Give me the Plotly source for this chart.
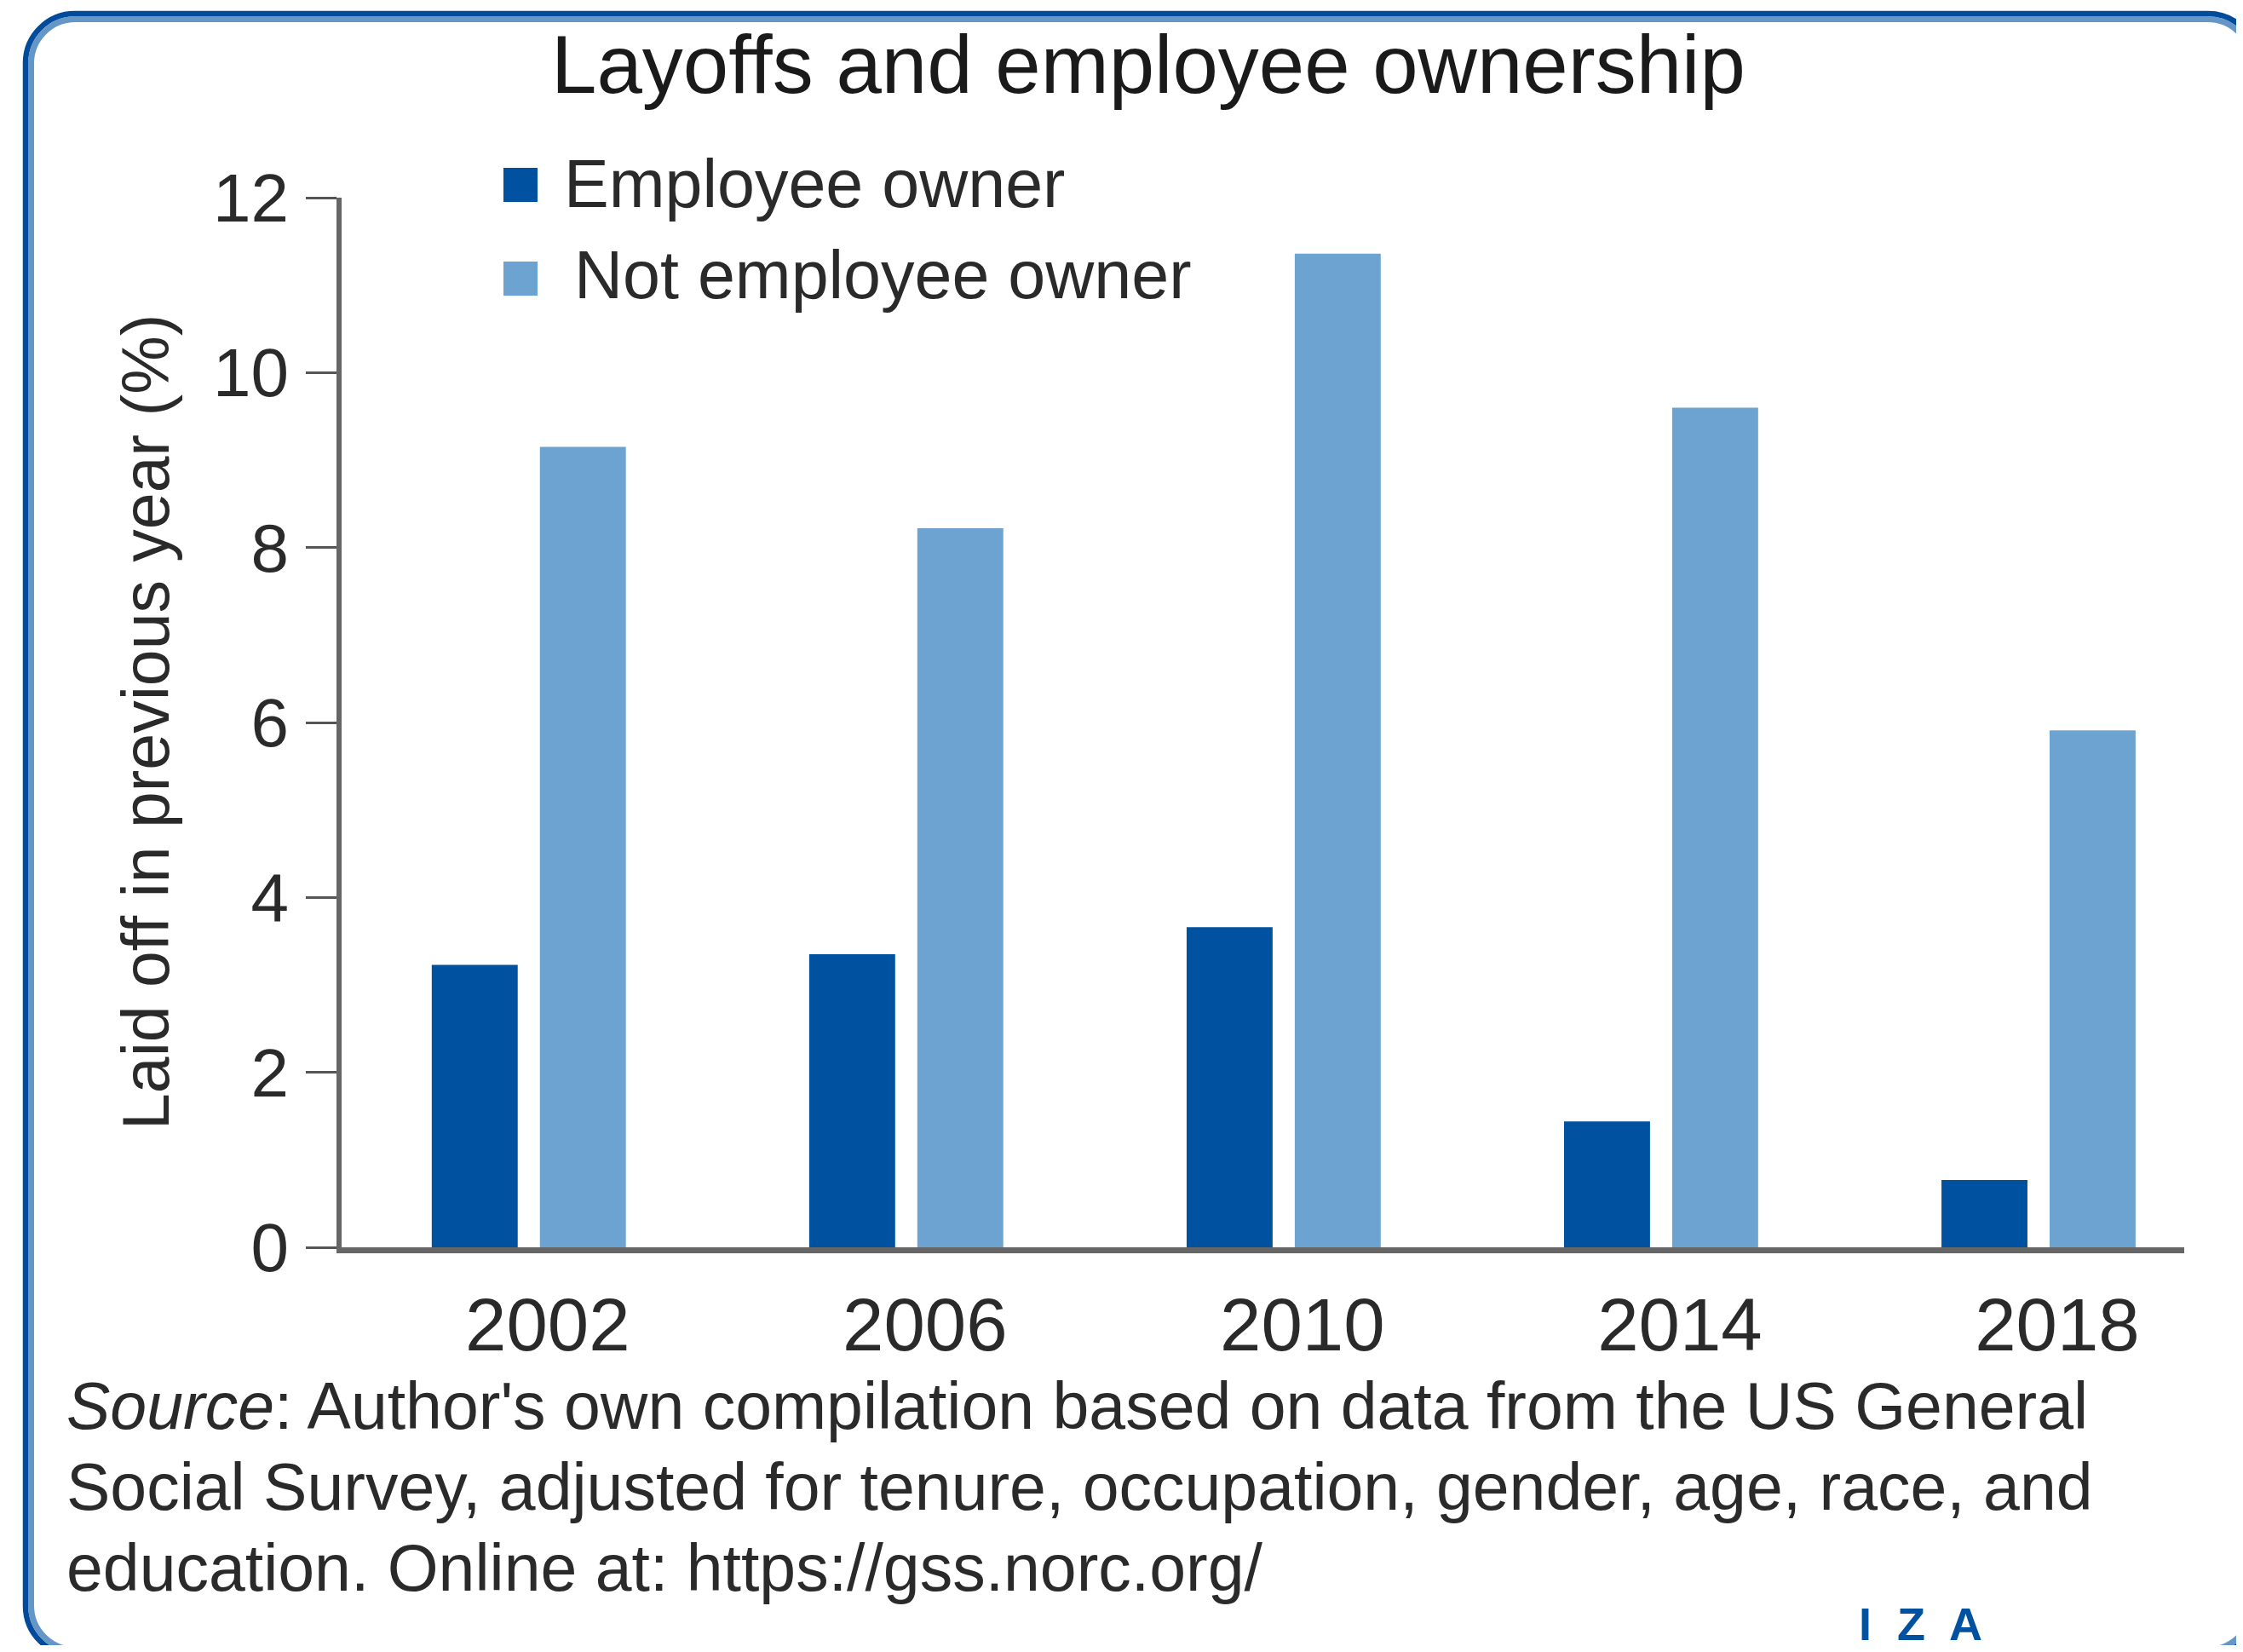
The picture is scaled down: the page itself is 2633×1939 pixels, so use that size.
import plotly.graph_objects as go

# ---- data ----
years = ["2002", "2006", "2010", "2014", "2018"]
employee_owner = [3.23, 3.35, 3.66, 1.44, 0.77]
not_employee_owner = [9.15, 8.22, 11.36, 9.60, 5.91]
series_names = ["Employee owner", "Not employee owner"]
y_ticks = [0, 2, 4, 6, 8, 10, 12]

# ---- layout geometry (target-screen pixels; page body has an 8px margin) ----
OFF = 8
FW, FH = 2633 - 2 * OFF, 1939 - 2 * OFF
# plot area in screen pixels: x 401..2564, y 232..1464
ML = 401 - OFF
MT = 232 - OFF
MR = FW - (2564 - OFF)
MB = FH - (1464 - OFF)
PW = FW - ML - MR
PH = FH - MT - MB


def px(x):
    return (x - OFF - ML) / PW


def py(y):
    return (FH - MB - (y - OFF)) / PH


DARK = "#0052A0"
LIGHT = "#6DA3D0"
TEXT_FONT = "Liberation Sans, Arial, sans-serif"
NUM_FONT = "Liberation Sans, Arial, sans-serif"
TXT_COL = "#2a2a2a"

fig = go.Figure()
fig.add_trace(go.Bar(x=years, y=employee_owner, name=series_names[0],
                     marker=dict(color=DARK, line=dict(width=0)), showlegend=False))
fig.add_trace(go.Bar(x=years, y=not_employee_owner, name=series_names[1],
                     marker=dict(color=LIGHT, line=dict(width=0)), showlegend=False))


def rounded_path(x0, y0, x1, y1, r):
    k = 0.5523 * r

    def P(x, y):
        return f"{px(x):.6f},{py(y):.6f}"
    return (f"M {P(x0 + r, y0)} L {P(x1 - r, y0)} "
            f"C {P(x1 - r + k, y0)} {P(x1, y0 + r - k)} {P(x1, y0 + r)} "
            f"L {P(x1, y1 - r)} "
            f"C {P(x1, y1 - r + k)} {P(x1 - r + k, y1)} {P(x1 - r, y1)} "
            f"L {P(x0 + r, y1)} "
            f"C {P(x0 + r - k, y1)} {P(x0, y1 - r + k)} {P(x0, y1 - r)} "
            f"L {P(x0, y0 + r)} "
            f"C {P(x0, y0 + r - k)} {P(x0 + r - k, y0)} {P(x0 + r, y0)} Z")


shapes = [
    dict(type="path", xref="paper", yref="paper",
         path=rounded_path(30, 16, 2650, 1943, 58),
         line=dict(color="#004B9B", width=6.5)),
    dict(type="path", xref="paper", yref="paper",
         path=rounded_path(36.5, 22.5, 2643.5, 1936.5, 52),
         line=dict(color="#6496C8", width=7)),
]

# legend squares
for yc, col in [(217, DARK), (327, LIGHT)]:
    shapes.append(dict(type="rect", xref="paper", yref="paper",
                       x0=px(591), x1=px(631), y0=py(yc + 20), y1=py(yc - 20),
                       fillcolor=col, line=dict(width=0)))

annotations = [
    dict(text="Layoffs and employee ownership", x=px(1348), y=py(76),
         xref="paper", yref="paper", xanchor="center", yanchor="middle",
         showarrow=False, font=dict(family=TEXT_FONT, size=96, color="#1a1a1a")),
    dict(text=series_names[0], x=px(660), y=py(215),
         xref="paper", yref="paper", xanchor="left", yanchor="middle",
         showarrow=False, font=dict(family=TEXT_FONT, size=79, color=TXT_COL)),
    dict(text=series_names[1], x=px(672), y=py(322),
         xref="paper", yref="paper", xanchor="left", yanchor="middle",
         showarrow=False, font=dict(family=TEXT_FONT, size=79, color=TXT_COL)),
    dict(text="Laid off in previous year (%)", x=px(171), y=py(848),
         xref="paper", yref="paper", xanchor="center", yanchor="middle",
         textangle=-90, showarrow=False,
         font=dict(family=TEXT_FONT, size=77, color=TXT_COL)),
    dict(text="<i>Source</i>: Author's own compilation based on data from the US General",
         x=px(76), y=py(1650), xref="paper", yref="paper", xanchor="left", yanchor="middle",
         showarrow=False, font=dict(family=TEXT_FONT, size=77, color=TXT_COL)),
    dict(text="Social Survey, adjusted for tenure, occupation, gender, age, race, and",
         x=px(76), y=py(1745), xref="paper", yref="paper", xanchor="left", yanchor="middle",
         showarrow=False, font=dict(family=TEXT_FONT, size=77, color=TXT_COL)),
    dict(text="education. Online at: https://gss.norc.org/",
         x=px(76), y=py(1840), xref="paper", yref="paper", xanchor="left", yanchor="middle",
         showarrow=False, font=dict(family=TEXT_FONT, size=77, color=TXT_COL)),
    dict(text="I  Z  A", x=px(2254), y=py(1906),
         xref="paper", yref="paper", xanchor="center", yanchor="middle",
         showarrow=False, font=dict(family=NUM_FONT, size=54, color="#0052A0", weight=600)),
]

fig.update_layout(
    width=FW, height=FH,
    margin=dict(l=ML, r=MR, t=MT, b=MB, autoexpand=False),
    paper_bgcolor="white", plot_bgcolor="white",
    barmode="group", bargap=0.427, bargroupgap=0.205,
    showlegend=False,
    shapes=shapes, annotations=annotations,
)
fig.update_xaxes(
    type="category", range=[-0.496, 4.386],
    showline=True, linecolor="#666666", linewidth=7,
    ticks="", showgrid=False, zeroline=False,
    tickfont=dict(family=NUM_FONT, size=87, color=TXT_COL),
    ticklabelstandoff=10, ticklabelshift=22,
)
fig.update_yaxes(
    range=[0, 12], tickvals=y_ticks, ticktext=[str(v) for v in y_ticks],
    showline=True, linecolor="#666666", linewidth=6,
    ticks="outside", ticklen=36, tickwidth=3, tickcolor="#555555",
    showgrid=False, zeroline=False,
    tickfont=dict(family=NUM_FONT, size=80, color=TXT_COL),
    ticklabelstandoff=4,
)

fig.write_html("out.html")
